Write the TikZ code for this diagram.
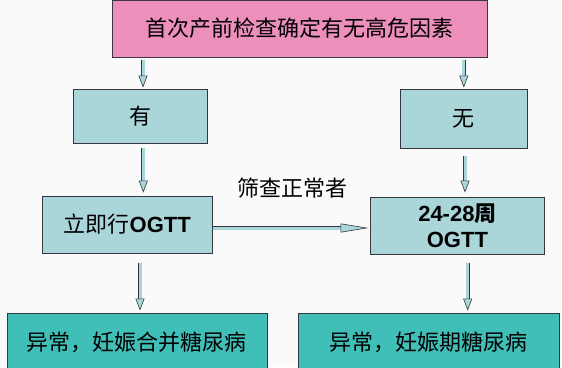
\documentclass[tikz,border=0pt]{standalone}
\usepackage{fontspec}
\setmainfont{Noto Sans CJK SC}
\newfontfamily\latinb{Liberation Sans}
\usetikzlibrary{positioning,calc,arrows.meta}

\definecolor{pinkbox}{RGB}{236,143,186}
\definecolor{lightteal}{RGB}{170,214,218}
\definecolor{darkteal}{RGB}{64,190,184}
\definecolor{edgegray}{RGB}{55,55,65}
\definecolor{paper}{RGB}{250,250,250}

\begin{document}
\begin{tikzpicture}[
        x=1pt, y=-1pt,
        box/.style={draw=edgegray, line width=0.9pt, align=center, inner sep=0pt,
                    font=\fontsize{22}{26}\selectfont},
        topbox/.style={box, fill=pinkbox},
        midbox/.style={box, fill=lightteal},
        endbox/.style={box, fill=darkteal},
        flow/.style={draw=edgegray, line width=0.6pt, double=lightteal, double distance=3pt,
                     -{Triangle[width=9pt,length=12pt,fill=lightteal]}},
        longflow/.style={flow, -{Triangle[width=9pt,length=28pt,fill=lightteal]}},
        tag/.style={font=\fontsize{22}{26}\selectfont}
      ]

      \useasboundingbox (0,0) rectangle (562,367);
      \clip (0,0) rectangle (562,367);
      \fill[paper] (0,0) rectangle (562,367);

      \node (HR) at (299.5, 28.5) [topbox, minimum width=375pt, minimum height=57pt] {首次产前检查确定有无高危因素};
      \node (Y) at (140.3, 116) [midbox, minimum width=133.5pt, minimum height=54pt] {有};
      \node (N) at (463.8, 118.5) [midbox, minimum width=127.6pt, minimum height=59pt] {无};
      \node (NOW) at (127.2, 224.5) [midbox, minimum width=169.7pt, minimum height=57pt] {立即行{\latinb\bfseries OGTT}};
      \node (WK) at (457.4, 225.5) [midbox, minimum width=174.8pt, minimum height=57pt,
            font=\fontsize{22}{26}\selectfont\latinb\bfseries] {24-28{\normalfont\bfseries 周}\\OGTT};
      \node (PGDM) at (137, 342) [endbox, minimum width=260pt, minimum height=58pt] {异常，妊娠合并糖尿病};
      \node (GDM) at (428.8, 342) [endbox, minimum width=260.4pt, minimum height=58pt] {异常，妊娠期糖尿病};

      \node (OK) at (292, 188) [tag] {筛查正常者};

      \draw[flow, shorten <=3pt, shorten >=1pt] ([xshift=2.7pt]Y.north |- HR.south) -- ([xshift=2.7pt]Y.north);
      \draw[flow, shorten <=3pt, shorten >=1pt] (N.north |- HR.south) -- (N.north);
      \draw[flow, shorten <=5pt, shorten >=3pt] ([xshift=3pt]Y.south) -- ([xshift=3pt]Y.south |- NOW.north);
      \draw[flow, shorten <=8pt, shorten >=4pt] ([xshift=1.2pt]N.south) -- ([xshift=1.2pt]N.south |- WK.north);
      \draw[longflow, shorten >=1pt] ([yshift=-3.5pt]NOW.east) -- ([yshift=-3.5pt]NOW.east -| WK.west);
      \draw[flow, shorten <=10pt, shorten >=2pt] ([xshift=12.8pt]NOW.south) -- ([xshift=12.8pt]NOW.south |- PGDM.north);
      \draw[flow, shorten <=9pt, shorten >=2pt] ([xshift=10.3pt]WK.south) -- ([xshift=10.3pt]WK.south |- GDM.north);
    \end{tikzpicture}
\end{document}
